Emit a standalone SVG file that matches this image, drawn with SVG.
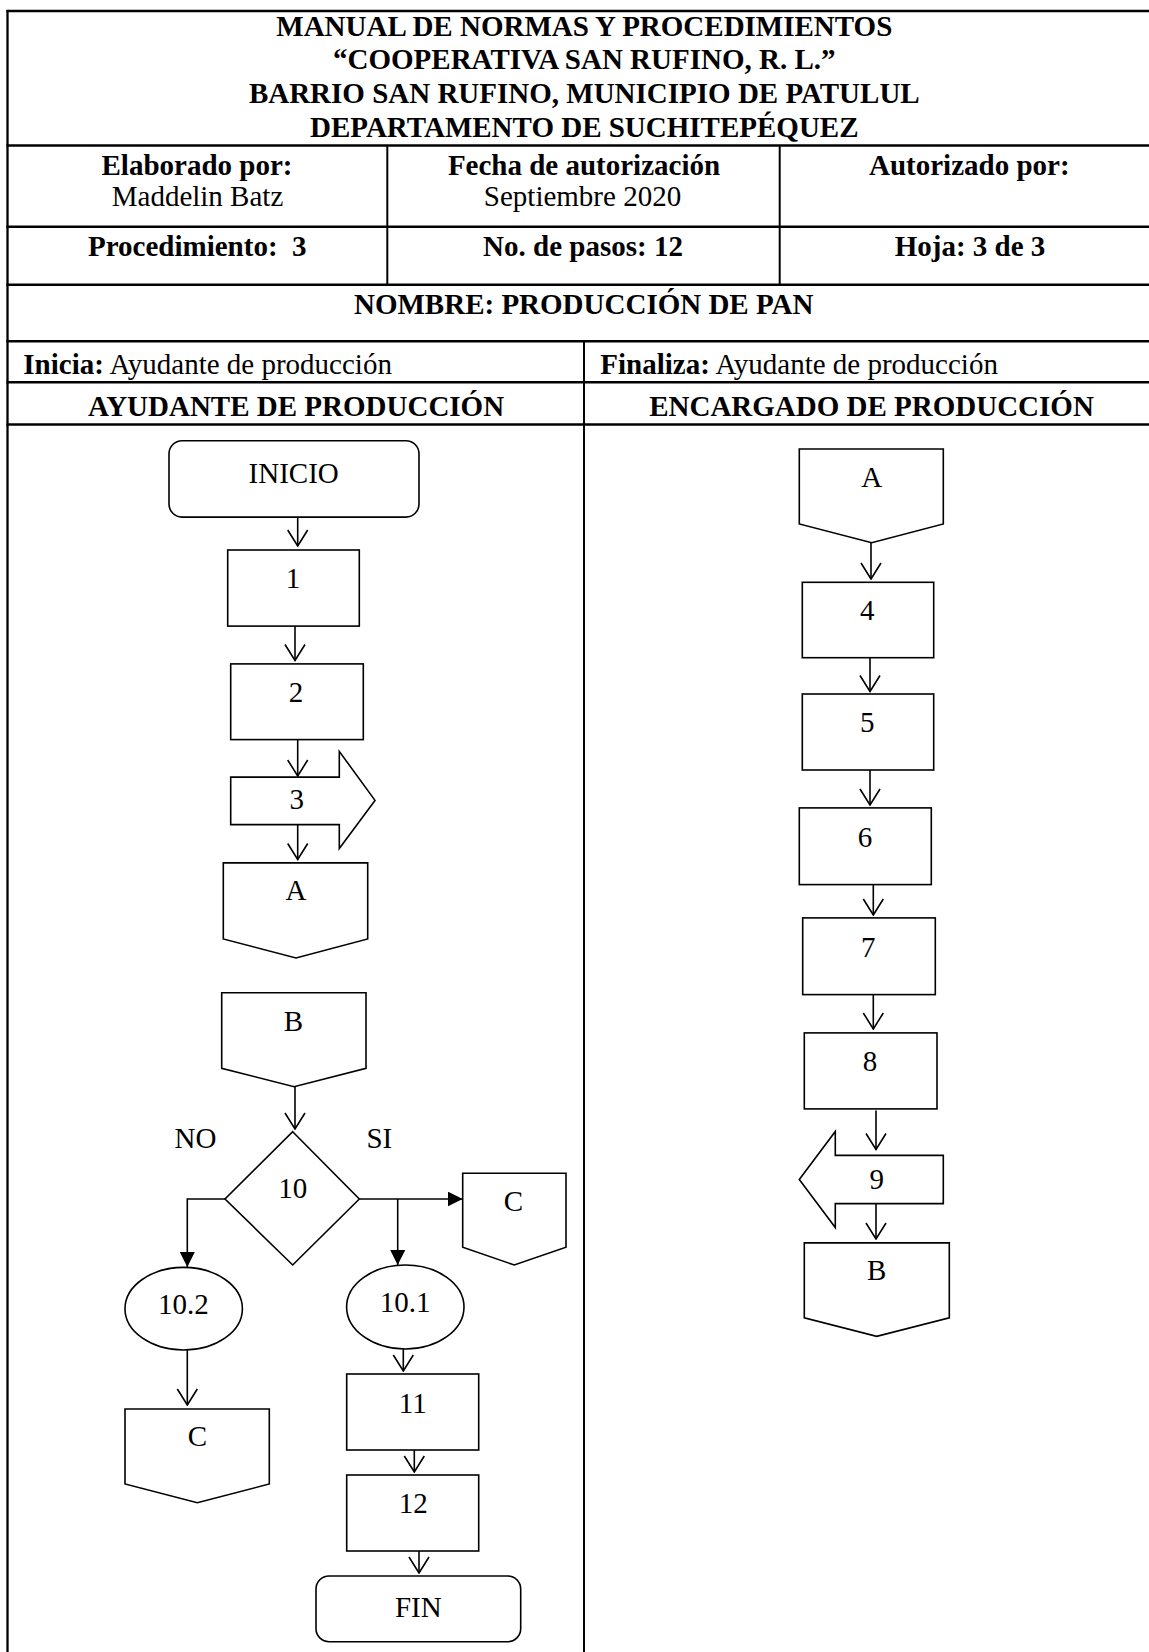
<svg xmlns="http://www.w3.org/2000/svg" width="1149" height="1652" viewBox="0 0 1149 1652">
<defs>
<style>
.t{font-family:"Liberation Serif","Times New Roman",serif;font-size:29px;fill:#000;text-anchor:middle}
.b{font-weight:bold}
.s{text-anchor:start}
.hl{stroke:#000;stroke-width:2.5;fill:none}
.vl{stroke:#000;stroke-width:2;fill:none}
.sh{fill:#fff;stroke:#000;stroke-width:1.6}
.c{stroke:#000;stroke-width:1.6;fill:none}
.co{marker-end:url(#open)}
.cf{marker-end:url(#filled)}
</style>
<marker id="open" viewBox="0 0 18 22" refX="17" refY="11" markerWidth="18" markerHeight="22" markerUnits="userSpaceOnUse" orient="auto">
<path d="M1,1 L17,11 L1,21" fill="none" stroke="#000" stroke-width="1.6"/>
</marker>
<marker id="filled" viewBox="0 0 15 15" refX="15" refY="7.5" markerWidth="15" markerHeight="15" markerUnits="userSpaceOnUse" orient="auto">
<path d="M0,0 L15,7.5 L0,15 Z" fill="#000"/>
</marker>
</defs>
<rect width="1149" height="1652" fill="#fff"/>

<g id="table">
<line class="hl" x1="6.5" y1="11" x2="1149" y2="11"/>
<line class="hl" x1="6.5" y1="145.5" x2="1149" y2="145.5"/>
<line class="hl" x1="6.5" y1="226.7" x2="1149" y2="226.7"/>
<line class="hl" x1="6.5" y1="284.7" x2="1149" y2="284.7"/>
<line class="hl" x1="6.5" y1="341.3" x2="1149" y2="341.3"/>
<line class="hl" x1="6.5" y1="382.3" x2="1149" y2="382.3"/>
<line class="hl" x1="6.5" y1="424.6" x2="1149" y2="424.6"/>
<line class="vl" x1="7.5" y1="10" x2="7.5" y2="1652" style="stroke-width:2.3"/>
<line class="vl" x1="387.3" y1="145.5" x2="387.3" y2="284.7"/>
<line class="vl" x1="779.7" y1="145.5" x2="779.7" y2="284.7"/>
<line class="vl" x1="584" y1="341.3" x2="584" y2="1652"/>
<text class="t b" x="584.3" y="36">MANUAL DE NORMAS Y PROCEDIMIENTOS</text>
<text class="t b" x="584.3" y="68.6">“COOPERATIVA SAN RUFINO, R. L.”</text>
<text class="t b" x="584.3" y="103">BARRIO SAN RUFINO, MUNICIPIO DE PATULUL</text>
<text class="t b" x="584.3" y="137">DEPARTAMENTO DE SUCHITEPÉQUEZ</text>
<text class="t b" x="197" y="175">Elaborado por:</text>
<text class="t" x="197.5" y="205.5">Maddelin Batz</text>
<text class="t b" x="584" y="175">Fecha de autorización</text>
<text class="t" x="582.5" y="205.5">Septiembre 2020</text>
<text class="t b" x="969.3" y="175">Autorizado por:</text>
<text class="t b" x="197.3" y="256" xml:space="preserve">Procedimiento:  3</text>
<text class="t b" x="583" y="256">No. de pasos: 12</text>
<text class="t b" x="970" y="256">Hoja: 3 de 3</text>
<text class="t b" x="583.7" y="314">NOMBRE: PRODUCCIÓN DE PAN</text>
<text class="t s" x="23.3" y="374"><tspan class="b">Inicia:</tspan> Ayudante de producción</text>
<text class="t s" x="600.3" y="374"><tspan class="b">Finaliza:</tspan> Ayudante de producción</text>
<text class="t b" x="296" y="416">AYUDANTE DE PRODUCCIÓN</text>
<text class="t b" x="871.5" y="416">ENCARGADO DE PRODUCCIÓN</text>
</g>

<g id="connectors">
<line class="c co" x1="297.7" y1="517.1" x2="297.7" y2="546"/>
<line class="c co" x1="295" y1="626.1" x2="295" y2="660.5"/>
<line class="c co" x1="297.7" y1="739.6" x2="297.7" y2="776"/>
<line class="c co" x1="297.7" y1="824.6" x2="297.7" y2="859.5"/>
<line class="c co" x1="295" y1="1086.7" x2="295" y2="1129"/>
<polyline class="c cf" points="225,1199 187.3,1199 187.3,1267"/>
<line class="c cf" x1="359.3" y1="1199" x2="462.7" y2="1199"/>
<line class="c cf" x1="397.7" y1="1199" x2="397.7" y2="1265"/>
<line class="c co" x1="187.3" y1="1350" x2="187.3" y2="1405"/>
<line class="c co" x1="403.3" y1="1349" x2="403.3" y2="1371"/>
<line class="c co" x1="414.3" y1="1450" x2="414.3" y2="1472"/>
<line class="c co" x1="419" y1="1551" x2="419" y2="1573"/>
<line class="c co" x1="871" y1="542.7" x2="871" y2="579"/>
<line class="c co" x1="870" y1="657.7" x2="870" y2="691.5"/>
<line class="c co" x1="870" y1="770" x2="870" y2="805"/>
<line class="c co" x1="873.3" y1="884.6" x2="873.3" y2="915"/>
<line class="c co" x1="873.3" y1="994.6" x2="873.3" y2="1029"/>
<line class="c co" x1="876" y1="1110.5" x2="876" y2="1149.5"/>
<line class="c co" x1="876" y1="1203.6" x2="876" y2="1239"/>
</g>

<g id="n-inicio"><rect class="sh" x="169" y="440.7" width="250" height="76.4" rx="13"/><text class="t" x="293.7" y="482.5">INICIO</text></g>
<g id="n-1"><rect class="sh" x="227.7" y="550" width="131.6" height="76.1"/><text class="t" x="293" y="587.9">1</text></g>
<g id="n-2"><rect class="sh" x="230.7" y="663.9" width="132.6" height="75.7"/><text class="t" x="296" y="702.1">2</text></g>
<g id="n-3"><polygon class="sh" points="230.7,777.1 339.3,777.1 339.3,751.4 375,800.4 339.3,848.6 339.3,824.6 230.7,824.6"/><text class="t" x="296.7" y="809.3">3</text></g>
<g id="n-a-left"><polygon class="sh" points="223.3,862.9 367.7,862.9 367.7,938.9 296,958 223.3,938.9"/><text class="t" x="296" y="900.4">A</text></g>
<g id="n-b-left"><polygon class="sh" points="221.7,992.7 366,992.7 366,1068.3 294,1086.7 221.7,1068.3"/><text class="t" x="293.5" y="1030.7">B</text></g>
<g id="n-10"><polygon class="sh" points="292.7,1131.7 359.3,1199 292.7,1265 225,1199"/><text class="t" x="292.7" y="1198">10</text></g>
<g id="label-no"><text class="t" x="195.5" y="1148">NO</text></g>
<g id="label-si"><text class="t" x="379.3" y="1148">SI</text></g>
<g id="n-c-right"><polygon class="sh" points="462.7,1173.3 566,1173.3 566,1247.3 514.3,1265 462.7,1247.3"/><text class="t" x="513.3" y="1211">C</text></g>
<g id="n-10-2"><ellipse class="sh" cx="183.7" cy="1308.7" rx="58.7" ry="41.3"/><text class="t" x="183.3" y="1314">10.2</text></g>
<g id="n-10-1"><ellipse class="sh" cx="405.3" cy="1307" rx="58.7" ry="42"/><text class="t" x="405" y="1312">10.1</text></g>
<g id="n-c-left"><polygon class="sh" points="125,1409 269.3,1409 269.3,1484 197.3,1502.7 125,1484"/><text class="t" x="197.3" y="1446">C</text></g>
<g id="n-11"><rect class="sh" x="346.7" y="1374" width="132" height="76"/><text class="t" x="412.7" y="1412.7">11</text></g>
<g id="n-12"><rect class="sh" x="346.7" y="1475" width="132" height="76"/><text class="t" x="413.3" y="1513.3">12</text></g>
<g id="n-fin"><rect class="sh" x="316" y="1576" width="204.7" height="65.7" rx="13"/><text class="t" x="418.3" y="1616.7">FIN</text></g>

<g id="n-a-right"><polygon class="sh" points="799.3,449 943.3,449 943.3,524 871.7,542.7 799.3,524"/><text class="t" x="871.7" y="486.7">A</text></g>
<g id="n-4"><rect class="sh" x="802.3" y="582.3" width="131.4" height="75.4"/><text class="t" x="867.3" y="620">4</text></g>
<g id="n-5"><rect class="sh" x="802.3" y="694" width="131.4" height="76"/><text class="t" x="867.3" y="731.7">5</text></g>
<g id="n-6"><rect class="sh" x="799.3" y="807.9" width="132" height="76.7"/><text class="t" x="865" y="847.1">6</text></g>
<g id="n-7"><rect class="sh" x="802.7" y="917.9" width="132.6" height="76.7"/><text class="t" x="868.3" y="957.1">7</text></g>
<g id="n-8"><rect class="sh" x="804.3" y="1032.9" width="132.7" height="76"/><text class="t" x="870" y="1071.4">8</text></g>
<g id="n-9"><polygon class="sh" points="943.3,1155.4 835.3,1155.4 835.3,1131.4 799.3,1179.6 835.3,1227.5 835.3,1203.6 943.3,1203.6"/><text class="t" x="876.7" y="1188.6">9</text></g>
<g id="n-b-right"><polygon class="sh" points="804.3,1242.9 949.3,1242.9 949.3,1317.9 876.7,1336.4 804.3,1317.9"/><text class="t" x="876.7" y="1280.4">B</text></g>
</svg>
